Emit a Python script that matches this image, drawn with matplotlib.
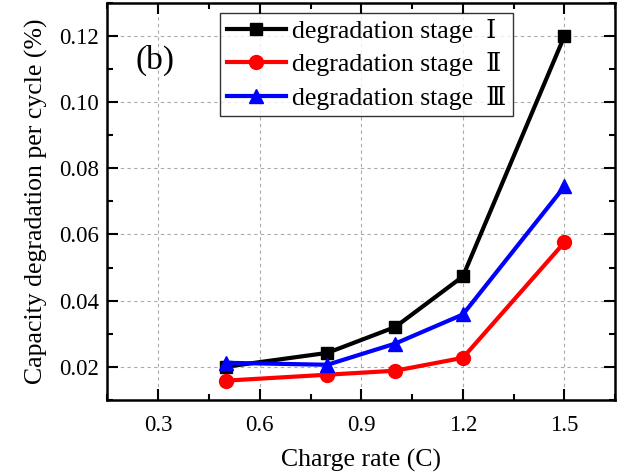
import numpy as np
import matplotlib.pyplot as plt

plt.rcParams['font.family'] = ['Liberation Serif', 'DejaVu Serif', 'Noto Sans CJK SC']

# data
rate = [0.5, 0.8, 1.0, 1.2, 1.5]
stage1 = [0.0200, 0.0242, 0.0320, 0.0473, 0.1200]
stage2 = [0.0158, 0.0176, 0.0188, 0.0227, 0.0576]
stage3 = [0.0212, 0.0206, 0.0270, 0.0358, 0.0745]
labels = ['degradation stage  Ⅰ', 'degradation stage  Ⅱ', 'degradation stage  Ⅲ']

fig = plt.figure(figsize=(6.24, 4.76), dpi=100)
ax = fig.add_axes([0.172, 0.16, 0.814, 0.834])

ax.plot(rate, stage1, color='black', lw=3, marker='s', ms=9, label=labels[0])
ax.plot(rate, stage2, color='red', lw=3, marker='o', ms=10, label=labels[1])
ax.plot(rate, stage3, color='blue', lw=3, marker='^', ms=10, label=labels[2])

ax.set_xlim(0.15, 1.65)
ax.set_ylim(0.01, 0.13)
ax.set_xticks([0.3, 0.6, 0.9, 1.2, 1.5])
ax.set_xticks(np.arange(0.15, 1.66, 0.15), minor=True)
ax.set_yticks([0.02, 0.04, 0.06, 0.08, 0.10, 0.12])
ax.set_yticks(np.arange(0.01, 0.131, 0.01), minor=True)
ax.set_yticklabels(['0.02', '0.04', '0.06', '0.08', '0.10', '0.12'])
ax.grid(True, which='major', ls=(0, (3, 3)), color='#aaaaaa', lw=0.8)

ax.tick_params(which='both', direction='in', top=True, right=True, labelsize=16.5, width=1.5)
ax.tick_params(which='major', length=8)
ax.tick_params(axis='x', which='major', pad=11)
ax.tick_params(axis='y', which='major', pad=6)
ax.tick_params(which='minor', length=4)
for s in ax.spines.values():
    s.set_linewidth(1.8)

ax.set_xlabel('Charge rate (C)', fontsize=18.5, labelpad=9)
ax.set_ylabel('Capacity degradation per cycle (%)', fontsize=18.5, labelpad=8)
ax.text(0.055, 0.855, '(b)', transform=ax.transAxes, fontsize=24, va='center')

leg = ax.legend(loc='upper left', bbox_to_anchor=(0.222, 0.975), fontsize=18.5,
                frameon=True, fancybox=False, edgecolor='black', handlelength=2.3,
                borderpad=0.25, labelspacing=0.36, handletextpad=0.25, borderaxespad=0)
leg.get_frame().set_linewidth(1.0)

fig.savefig('out.png', dpi=100)
